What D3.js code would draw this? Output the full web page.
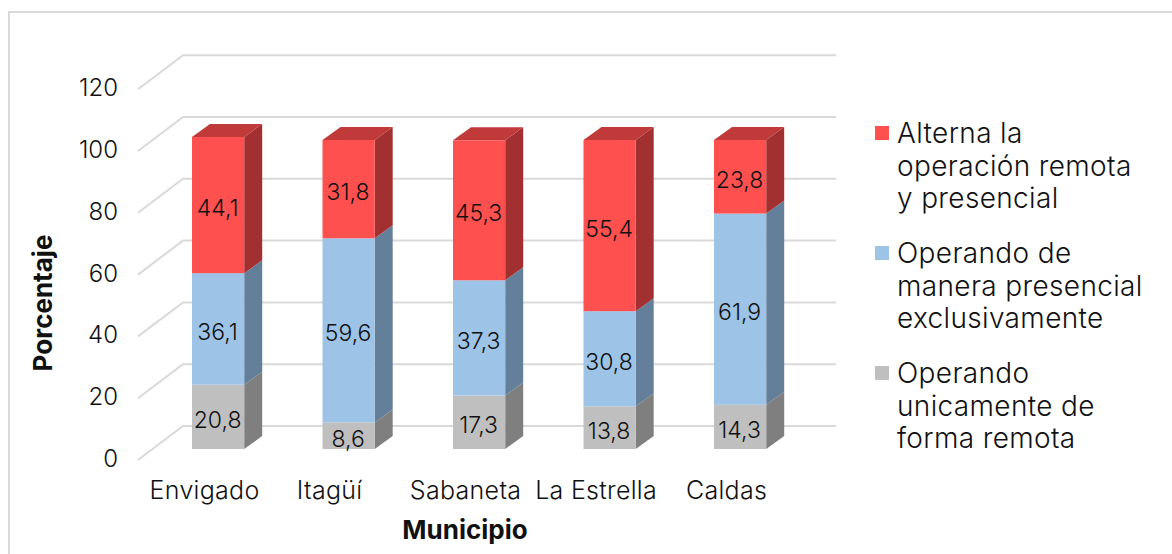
<!DOCTYPE html>
<html><head><meta charset="utf-8">
<script src="https://cdn.jsdelivr.net/npm/d3@7"></script>
<style>html,body{margin:0;padding:0;background:#fff;overflow:hidden}svg{display:block}text{font-family:"Inter","Lato",sans-serif;fill:#111;font-weight:300}</style>
</head><body><svg id="c" width="1172" height="554"></svg>
<script>
const categories=["Envigado","Itagüí","Sabaneta","La Estrella","Caldas"];
const remota=[20.8,8.6,17.3,13.8,14.3];
const presencial=[36.1,59.6,37.3,30.8,61.9];
const alterna=[44.1,31.8,45.3,55.4,23.8];
const yTicks=[0,20,40,60,80,100,120];
const seriesNames=[["Operando","unicamente de","forma remota"],["Operando de","manera presencial","exclusivamente"],["Alterna la","operación remota","y presencial"]];
const seriesValues=[remota,presencial,alterna];
const faceColors=[{f:"#BFBFBF",s:"#7F7F7F",t:"#989898"},{f:"#9DC3E6",s:"#647F99",t:"#7D9CB8"},{f:"#FF5050",s:"#A33030",t:"#C03A3A"}];
const fmt=v=>String(v).replace(".",",");
const svg=d3.select("#c");
svg.append("rect").attr("x",9).attr("y",12).attr("width",1180).attr("height",560).attr("fill","#fff").attr("stroke","#D9D9D9").attr("stroke-width",2);
const x=d3.scaleBand().domain(categories).range([152.85,805.35]).paddingInner(0.6).paddingOuter(0.3);
const y=d3.scaleLinear().domain([0,120]).range([449,78.2]);
const dx=18,dy=13;
const grid=svg.append("g").attr("fill","none").attr("stroke","#D9D9D9").attr("stroke-width",2);
yTicks.forEach(t=>{
  const yb=y(t)-23;
  grid.append("path").attr("d",`M138,${yb+34}L183,${yb}L836,${yb}`);
  svg.append("text").attr("x",118).attr("y",y(t)+18).attr("text-anchor","end").attr("font-size",24).text(t);
});
categories.forEach((c,i)=>{
  let acc=0;const bx=x(c),w=x.bandwidth();
  const g=svg.append("g");
  seriesValues.forEach((vals,k)=>{
    const v=vals[i],y0=y(acc),y1=y(acc+v),col=faceColors[k];
    g.append("polygon").attr("points",[[bx+w,y1],[bx+w+dx,y1-dy],[bx+w+dx,y0-dy],[bx+w,y0]].join(" ")).attr("fill",col.s);
    g.append("rect").attr("x",bx).attr("y",y1).attr("width",w).attr("height",y0-y1).attr("fill",col.f);
    if(k===2) g.append("polygon").attr("points",[[bx,y1],[bx+dx,y1-dy],[bx+w+dx,y1-dy],[bx+w,y1]].join(" ")).attr("fill",col.t);
    acc+=v;
  });
  acc=0;
  seriesValues.forEach(vals=>{
    const v=vals[i];
    g.append("text").attr("x",bx+w/2-0.5).attr("y",(y(acc)+y(acc+v))/2+11).attr("text-anchor","middle").attr("font-size",23).text(fmt(v));
    acc+=v;
  });
  svg.append("text").attr("x",bx+w/2-(c==="Itagüí"?19:13.5)).attr("y",499).attr("text-anchor","middle").attr("font-size",25).attr("letter-spacing",0.3).text(c);
});
svg.append("text").attr("x",465).attr("y",539).attr("text-anchor","middle").attr("font-size",26).style("font-weight",700).text("Municipio");
svg.append("text").attr("transform","translate(52,303) rotate(-90)").attr("text-anchor","middle").attr("font-size",26).style("font-weight",700).text("Porcentaje");
[2,1,0].forEach((k,idx)=>{
  const top=126+idx*120;
  svg.append("rect").attr("x",875).attr("y",top).attr("width",14).attr("height",14).attr("fill",faceColors[k].f);
  seriesNames[k].forEach((ln,j)=>{
    svg.append("text").attr("x",897).attr("y",top+17+j*32.5).attr("font-size",28).attr("letter-spacing",0.35).text(ln);
  });
});
</script></body></html>
